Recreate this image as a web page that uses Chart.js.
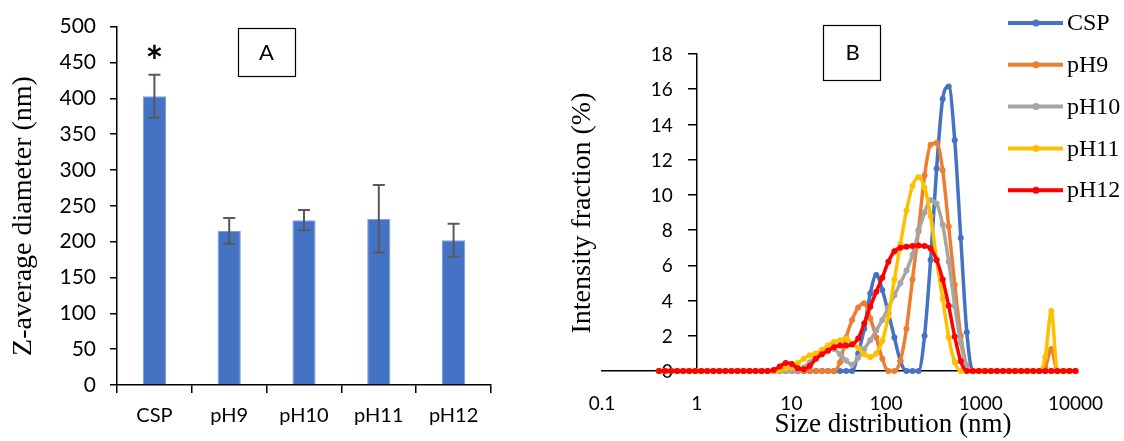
<!DOCTYPE html>
<html>
<head>
<meta charset="utf-8">
<script src="https://cdn.jsdelivr.net/npm/chart.js@4.4.0/dist/chart.umd.min.js"></script>
<style>
  html, body { margin: 0; padding: 0; background: #fff; }
  #wrap { position: relative; width: 1124px; height: 441px; }
  #chartA { position: absolute; left: 0; top: 0; }
  #chartB { position: absolute; left: 560px; top: 0; }
</style>
</head>
<body>
<div id="wrap">
  <canvas id="chartA" width="560" height="441"></canvas>
  <canvas id="chartB" width="564" height="441"></canvas>
</div>
<script>
// A: Z-average diameter per sample
var samples = ['CSP', 'pH9', 'pH10', 'pH11', 'pH12'];
var zAverage = [403, 215, 230, 232, 202];
var zError = [30, 18, 14, 47, 23];
var significance = ['*', '', '', '', ''];

// B: intensity size distribution (nm bins)
var sizeBins = [0.4, 0.4632, 0.5365, 0.6213, 0.7195, 0.8332, 0.9649, 1.117, 1.294, 1.499,
  1.736, 2.01, 2.328, 2.696, 3.122, 3.615, 4.187, 4.849, 5.615, 6.503,
  7.531, 8.721, 10.1, 11.7, 13.54, 15.69, 18.17, 21.04, 24.36, 28.21,
  32.67, 37.84, 43.82, 50.75, 58.77, 68.06, 78.82, 91.28, 105.7, 122.4,
  141.8, 164.2, 190.1, 220.2, 255.0, 295.3, 342.0, 396.1, 458.7, 531.2,
  615.1, 712.4, 825.0, 955.4, 1106, 1281, 1484, 1718, 1990, 2305,
  2669, 3091, 3580, 4145, 4801, 5560, 6439, 7456, 8635, 10000];
var sizeTicks = [0.1, 1, 10, 100, 1000, 10000];

var intCSP = [0, 0, 0, 0, 0, 0, 0, 0, 0, 0,
  0, 0, 0, 0, 0, 0, 0, 0, 0, 0,
  0, 0, 0, 0, 0, 0, 0, 0, 0, 0,
  0, 0, 0, 1.0, 2.4, 4.4, 5.45, 4.6, 3.3, 1.9,
  0.55, 0, 0, 0, 2.0, 6.3, 11.5, 15.45, 16.15, 13.1,
  7.55, 2.2, 0, 0, 0, 0, 0, 0, 0, 0,
  0, 0, 0, 0, 0, 0, 0, 0, 0, 0];
var intPH9 = [0, 0, 0, 0, 0, 0, 0, 0, 0, 0,
  0, 0, 0, 0, 0, 0, 0, 0, 0, 0,
  0, 0, 0, 0, 0, 0, 0, 0, 0, 0,
  0.5, 1.9, 2.9, 3.6, 3.85, 3.0, 1.9, 0.7, 0, 0,
  0.6, 2.4, 5.2, 8.0, 11.1, 12.85, 12.95, 11.4, 8.2, 4.9,
  2.0, 0.3, 0, 0, 0, 0, 0, 0, 0, 0,
  0, 0, 0, 0, 0.2, 1.25, 0, 0, 0, 0];
var intPH10 = [0, 0, 0, 0, 0, 0, 0, 0, 0, 0,
  0, 0, 0, 0, 0, 0, 0, 0, 0, 0,
  0, 0, 0, 0.05, 0.2, 0.5, 0.85, 1.15, 1.3, 1.25,
  0.95, 0.6, 0.35, 0.75, 1.25, 1.75, 2.3, 2.9, 3.6, 4.3,
  5.0, 5.7, 6.6, 7.9, 9.0, 9.7, 9.5, 8.3, 6.2, 3.7,
  1.6, 0.2, 0, 0, 0, 0, 0, 0, 0, 0,
  0, 0, 0, 0, 0, 0, 0, 0, 0, 0];
var intPH11 = [0, 0, 0, 0, 0, 0, 0, 0, 0, 0,
  0, 0, 0, 0, 0, 0, 0, 0, 0, 0,
  0.05, 0.15, 0.2, 0.45, 0.7, 0.9, 1.0, 1.2, 1.45, 1.65,
  1.75, 1.84, 1.55, 1.3, 0.95, 0.8, 1.0, 1.7, 3.1, 5.2,
  7.2, 9.1, 10.5, 11.0, 10.4, 8.8, 6.3, 4.1, 1.9, 0.5,
  0, 0, 0, 0, 0, 0, 0, 0, 0, 0,
  0, 0, 0, 0, 0.8, 3.4, 0, 0, 0, 0];
var intPH12 = [0, 0, 0, 0, 0, 0, 0, 0, 0, 0,
  0, 0, 0, 0, 0, 0, 0, 0, 0, 0.05,
  0.25, 0.45, 0.4, 0.15, 0.1, 0.3, 0.7, 0.95, 1.15, 1.35,
  1.45, 1.45, 1.5, 1.85, 2.7, 3.65, 4.5, 5.3, 6.2, 6.8,
  7.0, 7.05, 7.1, 7.12, 7.1, 6.95, 6.3, 5.2, 3.7, 1.95,
  0.55, 0, 0, 0, 0, 0, 0, 0, 0, 0,
  0, 0, 0, 0, 0, 0, 0, 0, 0, 0];

var tickFont = 'Lato';
var titleFont = '"Liberation Serif", "Times New Roman", serif';

// plain text + framed panel letter + axis titles
function decorations(id, items) {
  return {
    id: id,
    afterDraw: function(chart) {
      var ctx = chart.ctx;
      items.forEach(function(it) {
        ctx.save();
        if (it.box) {
          ctx.strokeStyle = '#000';
          ctx.lineWidth = 1.2;
          ctx.strokeRect(it.box[0] + 0.5, it.box[1] + 0.5, it.box[2], it.box[3]);
        }
        ctx.fillStyle = '#000';
        ctx.font = it.font;
        ctx.textAlign = 'center';
        ctx.textBaseline = 'middle';
        ctx.translate(it.x, it.y);
        if (it.rotate) ctx.rotate(-Math.PI / 2);
        ctx.fillText(it.text, 0, 0);
        ctx.restore();
      });
    }
  };
}

var errorBars = {
  id: 'errorBars',
  afterDatasetsDraw: function(chart) {
    var ctx = chart.ctx;
    var y = chart.scales.y;
    chart.getDatasetMeta(0).data.forEach(function(bar, i) {
      var top = y.getPixelForValue(zAverage[i] + zError[i]);
      var bottom = y.getPixelForValue(zAverage[i] - zError[i]);
      ctx.save();
      ctx.strokeStyle = '#595959';
      ctx.lineWidth = 2;
      ctx.beginPath();
      ctx.moveTo(bar.x, top); ctx.lineTo(bar.x, bottom);
      ctx.moveTo(bar.x - 6, top); ctx.lineTo(bar.x + 6, top);
      ctx.moveTo(bar.x - 6, bottom); ctx.lineTo(bar.x + 6, bottom);
      ctx.stroke();
      if (significance[i]) {
        ctx.fillStyle = '#000';
        ctx.font = 'bold 42px ' + tickFont;
        ctx.textAlign = 'center';
        ctx.textBaseline = 'alphabetic';
        ctx.fillText(significance[i], bar.x, top + 2);
      }
      ctx.restore();
    });
  }
};

var chartA = new Chart(document.getElementById('chartA'), {
  type: 'bar',
  data: {
    labels: samples,
    datasets: [{
      data: zAverage,
      backgroundColor: '#4472C4',
      borderColor: '#7b9de0',
      borderWidth: 1,
      categoryPercentage: 1,
      barPercentage: 0.31
    }]
  },
  options: {
    responsive: false,
    animation: false,
    layout: { padding: { left: 0, top: 22, right: 69, bottom: 0 } },
    plugins: { legend: { display: false }, tooltip: { enabled: false } },
    scales: {
      x: {
        grid: { offset: true, drawOnChartArea: false, tickLength: 8, color: '#000', lineWidth: 1.5 },
        border: { color: '#000', width: 1.5 },
        ticks: { padding: 11, color: '#000', font: { family: tickFont, size: 20 } },
        afterFit: function(s) { s.height = 56; }
      },
      y: {
        min: 0, max: 500,
        ticks: { stepSize: 50, padding: 14, color: '#000', font: { family: tickFont, size: 21 } },
        grid: { drawOnChartArea: false, tickLength: 7, color: '#000', lineWidth: 1.5 },
        border: { color: '#000', width: 1.5 },
        afterFit: function(s) { s.width = 117; }
      }
    }
  },
  plugins: [errorBars, decorations('decoA', [
    { text: 'A', x: 266.5, y: 52.5, font: '22px ' + tickFont, box: [238, 28, 57, 48] },
    { text: 'Z-average diameter (nm)', x: 24, y: 216, rotate: true, font: '28px ' + titleFont }
  ])]
});

function sizeSeries(label, values, color, order) {
  return {
    label: label,
    data: values,
    borderColor: color,
    backgroundColor: color,
    pointBackgroundColor: color,
    borderWidth: 3.5,
    pointRadius: 3,
    pointBorderWidth: 0,
    cubicInterpolationMode: 'monotone',
    clip: false,
    order: order
  };
}

// y labels sit left of the axis drawn at x = 1 nm
var yTickLabels = {
  id: 'yTickLabels',
  beforeDatasetsDraw: function(chart) {
    var ctx = chart.ctx;
    var ys = chart.scales.y;
    var axisX = chart.scales.x.getPixelForValue(1);
    ctx.save();
    ctx.fillStyle = '#000';
    ctx.font = '19px ' + tickFont;
    ctx.textAlign = 'right';
    ctx.textBaseline = 'middle';
    ys.ticks.forEach(function(t) {
      ctx.fillText(String(t.value), axisX - 24, ys.getPixelForValue(t.value) + 1);
    });
    ctx.restore();
  }
};

var seriesLegend = {
  id: 'seriesLegend',
  afterDraw: function(chart) {
    var ctx = chart.ctx;
    chart.data.datasets.forEach(function(ds, i) {
      var y = 23 + i * 41.8;
      ctx.save();
      ctx.strokeStyle = ds.borderColor;
      ctx.lineWidth = 4;
      ctx.beginPath();
      ctx.moveTo(448, y); ctx.lineTo(503, y);
      ctx.stroke();
      ctx.fillStyle = ds.borderColor;
      ctx.beginPath();
      ctx.arc(476, y, 3.5, 0, Math.PI * 2);
      ctx.fill();
      ctx.fillStyle = '#000';
      ctx.font = '24px ' + titleFont;
      ctx.textAlign = 'left';
      ctx.textBaseline = 'middle';
      ctx.fillText(ds.label, 507, y + 1);
      ctx.restore();
    });
  }
};

var chartB = new Chart(document.getElementById('chartB'), {
  type: 'line',
  data: {
    labels: sizeBins,
    datasets: [
      sizeSeries('CSP', intCSP, '#4472C4', 4),
      sizeSeries('pH9', intPH9, '#ED7D31', 3),
      sizeSeries('pH10', intPH10, '#A5A5A5', 2),
      sizeSeries('pH11', intPH11, '#FFC000', 1),
      sizeSeries('pH12', intPH12, '#FF0000', 0)
    ]
  },
  options: {
    responsive: false,
    animation: false,
    layout: { padding: { left: 42, top: 54, right: 37, bottom: 0 } },
    plugins: { legend: { display: false }, tooltip: { enabled: false } },
    scales: {
      x: {
        type: 'logarithmic',
        min: 0.1, max: 10000,
        afterBuildTicks: function(s) { s.ticks = sizeTicks.map(function(v) { return { value: v }; }); },
        ticks: {
          callback: function(v) { return String(v); },
          autoSkip: false, maxRotation: 0, padding: 21,
          color: '#000', font: { family: tickFont, size: 19 }
        },
        grid: { display: false, drawTicks: false },
        border: { color: '#000', width: 1.5 },
        afterFit: function(s) { s.height = 70; }
      },
      y: {
        position: { x: 1 },
        min: 0, max: 18,
        ticks: { stepSize: 2, display: false },
        grid: { drawOnChartArea: false, tickLength: 8, color: '#000', lineWidth: 1.5 },
        border: { color: '#000', width: 1.5 },
        afterFit: function(s) { s.width = 0; }
      }
    }
  },
  plugins: [yTickLabels, seriesLegend, decorations('decoB', [
    { text: 'B', x: 292.5, y: 53, font: '22px ' + tickFont, box: [263, 25, 57, 55] },
    { text: 'Intensity fraction (%)', x: 23, y: 213, rotate: true, font: '28px ' + titleFont },
    { text: 'Size distribution (nm)', x: 333, y: 425, font: '27px ' + titleFont }
  ])]
});
</script>
</body>
</html>
